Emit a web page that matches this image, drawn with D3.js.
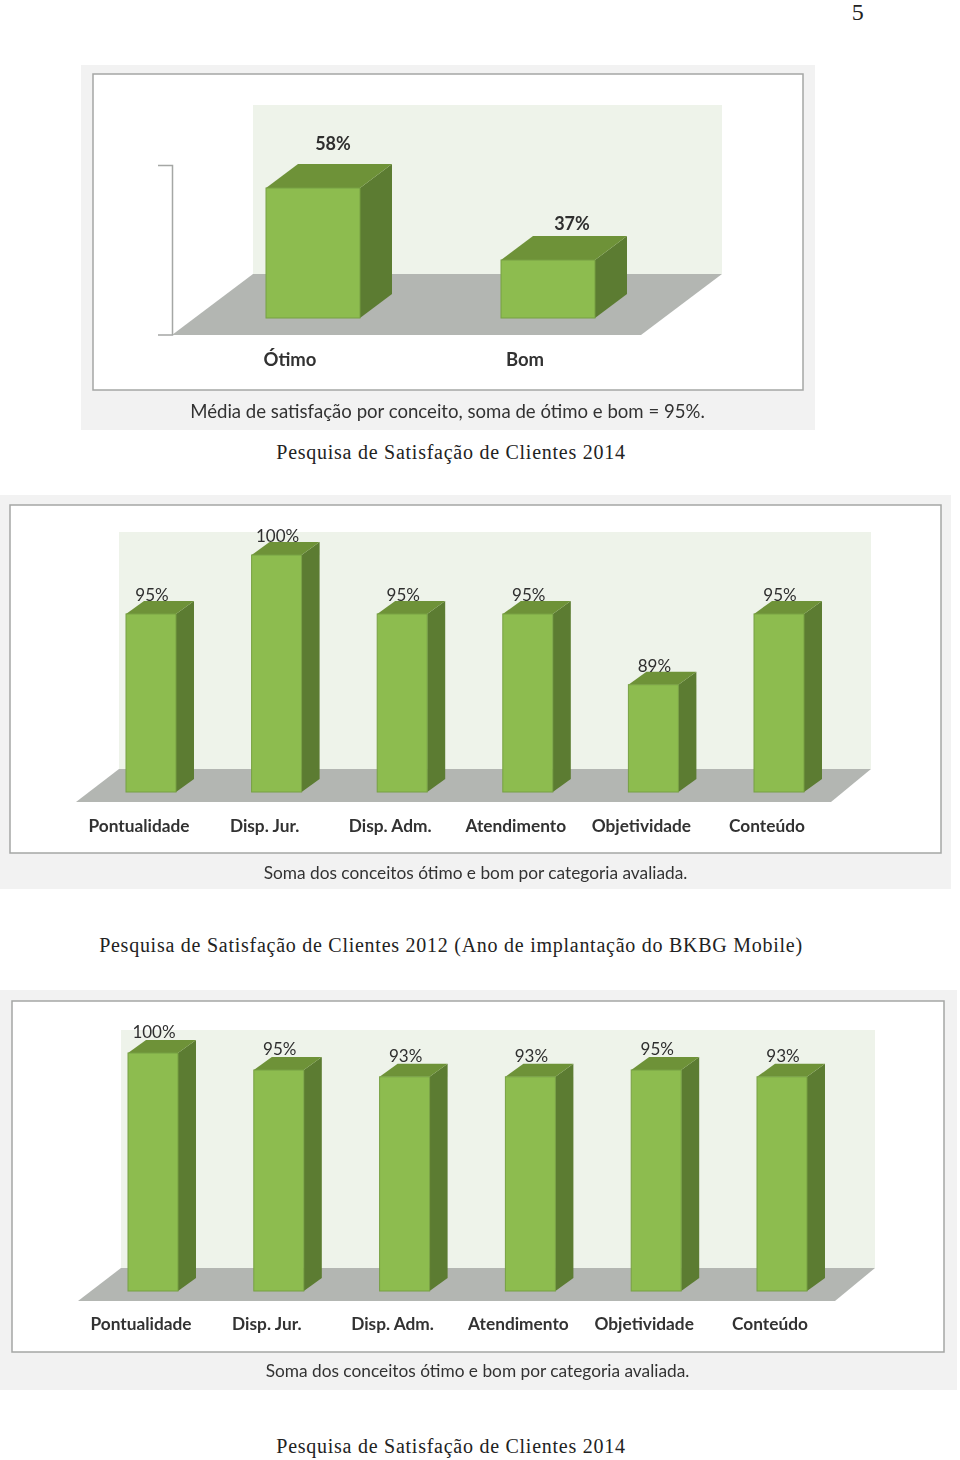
<!DOCTYPE html>
<html>
<head>
<meta charset="utf-8">
<script src="https://cdnjs.cloudflare.com/ajax/libs/d3/7.8.5/d3.min.js"></script>
<style>
html, body { margin: 0; padding: 0; background: #fff; }
svg { display: block; }
.page { font-family: "Liberation Serif", serif; font-size: 20px; letter-spacing: 0.74px; fill: #222; }
.val { font-family: Lato, sans-serif; fill: #2f2f2f; text-anchor: middle; }
.cat { font-family: Lato, sans-serif; font-weight: 700; fill: #333; text-anchor: middle; }
.note { font-family: Lato, sans-serif; fill: #333; text-anchor: middle; }
</style>
</head>
<body>
<svg id="chart" width="960" height="1460">
  <defs><filter id="soft" x="0" y="0" width="1" height="1"><feGaussianBlur stdDeviation="0.45"/></filter></defs>
</svg>
<script>
// chart data
var conceitos = ['Ótimo', 'Bom'];
var conceitosValues = [58, 37];

var categorias = ['Pontualidade', 'Disp. Jur.', 'Disp. Adm.', 'Atendimento', 'Objetividade', 'Conteúdo'];
var values2012 = [95, 100, 95, 95, 89, 95];
var values2014 = [100, 95, 93, 93, 95, 93];

var pageNumber = '5';
var caption2014 = 'Pesquisa de Satisfação de Clientes 2014';
var caption2012 = 'Pesquisa de Satisfação de Clientes 2012 (Ano de implantação do BKBG Mobile)';
var noteConceito = 'Média de satisfação por conceito, soma de ótimo e bom = 95%.';
var noteCategoria = 'Soma dos conceitos ótimo e bom por categoria avaliada.';

var svg = d3.select('#chart');

function polygon(g, points, fill) {
  g.append('polygon')
    .attr('points', points.map(function(p) { return p.join(','); }).join(' '))
    .attr('fill', fill);
}

function drawChart(o) {
  var g = svg.append('g').attr('filter', 'url(#soft)');

  // panel + frame
  g.append('rect').attr('x', o.panel[0]).attr('y', o.panel[1])
    .attr('width', o.panel[2] - o.panel[0]).attr('height', o.panel[3] - o.panel[1])
    .attr('fill', '#f2f2f2');
  g.append('rect').attr('x', o.frame[0]).attr('y', o.frame[1])
    .attr('width', o.frame[2] - o.frame[0]).attr('height', o.frame[3] - o.frame[1])
    .attr('fill', '#fff').attr('stroke', '#a5a7a5').attr('stroke-width', 1.5);

  // back wall + floor
  g.append('rect').attr('x', o.wall[0]).attr('y', o.wall[1])
    .attr('width', o.wall[2] - o.wall[0]).attr('height', o.wall[3] - o.wall[1])
    .attr('fill', '#eef3ea');
  polygon(g, [[o.wall[0], o.wall[3]], [o.wall[2], o.wall[3]], [o.floor[1], o.floor[2]], [o.floor[0], o.floor[2]]], '#b3b6b2');

  var x = d3.scalePoint().domain(o.categories).range(o.xRange);
  var y = d3.scaleLinear().domain(o.yDomain).range(o.yRange);

  var bars = g.selectAll('g.bar').data(o.values).enter().append('g').attr('class', 'bar');

  bars.each(function(d, i) {
    var b = d3.select(this);
    var x0 = x(o.categories[i]), x1 = x0 + o.barWidth, yt = y(d), yb = o.yRange[0];
    var nudge = o.valNudge ? o.valNudge[i] : [0, 0];
    polygon(b, [[x1, yt], [x1 + o.dx, yt - o.dy], [x1 + o.dx, yb - o.dy], [x1, yb]], '#5b7b30');
    polygon(b, [[x0, yt], [x0 + o.dx, yt - o.dy], [x1 + o.dx, yt - o.dy], [x1, yt]], '#6e9239');
    b.append('rect').attr('x', x0).attr('y', yt).attr('width', o.barWidth).attr('height', yb - yt)
      .attr('fill', '#8dbc4f').attr('stroke', '#77a043').attr('stroke-width', 1);
    b.append('text').attr('class', 'val')
      .attr('x', x0 + o.valDx + nudge[0]).attr('y', yt - o.valDy + nudge[1])
      .attr('dy', '0.35em').style('font-size', o.valSize + 'px')
      .style('font-weight', o.valWeight)
      .text(d + '%');
    b.append('text').attr('class', 'cat')
      .attr('x', x0 + o.catDx).attr('y', o.catY)
      .attr('dy', '0.35em').style('font-size', o.catSize + 'px')
      .text(o.categories[i]);
  });

  g.append('text').attr('class', 'note')
    .attr('x', o.noteX).attr('y', o.noteY).attr('dy', '0.35em')
    .style('font-size', o.noteSize + 'px').text(o.note);
  return g;
}

var first = drawChart({
  panel: [81, 65, 815, 430], frame: [93, 74, 803, 390],
  wall: [253, 105, 722, 274], floor: [172, 641, 335],
  categories: conceitos, values: conceitosValues,
  xRange: [266, 501], yDomain: [20.1, 58], yRange: [318, 188],
  barWidth: 94, dx: 32, dy: 24,
  valDx: 67, valDy: 44, valSize: 18, valWeight: 700, valNudge: [[0, 0], [4, 8]],
  catDx: 24, catY: 360, catSize: 18.5,
  note: noteConceito, noteX: 447.5, noteY: 411, noteSize: 18.6
});
// the first chart keeps a bare value axis on the left
first.append('path').attr('d', 'M158,165.5H172.5V335H158')
  .attr('fill', 'none').attr('stroke', '#a5a7a5').attr('stroke-width', 1.5);

drawChart({
  panel: [0, 495, 951, 889], frame: [10, 505, 941, 853],
  wall: [119, 532, 871, 769], floor: [76, 831, 802],
  categories: categorias, values: values2012,
  xRange: [126, 754], yDomain: [79.9, 100], yRange: [792, 555],
  barWidth: 50, dx: 18, dy: 13,
  valDx: 26, valDy: 19, valSize: 17, valWeight: 400, catDx: 13, catY: 826, catSize: 17.3,
  note: noteCategoria, noteX: 475.5, noteY: 873, noteSize: 17.3
});

drawChart({
  panel: [0, 990, 957, 1390], frame: [12, 1001, 944, 1352],
  wall: [121, 1030, 875, 1268], floor: [78, 835, 1301],
  categories: categorias, values: values2014,
  xRange: [128, 757], yDomain: [30, 100], yRange: [1291, 1053],
  barWidth: 50, dx: 18, dy: 13,
  valDx: 26, valDy: 20.5, valSize: 17, valWeight: 400, catDx: 13, catY: 1324, catSize: 17.3,
  note: noteCategoria, noteX: 477.5, noteY: 1371, noteSize: 17.3
});

svg.append('text').attr('class', 'page').attr('x', 858).attr('y', 20)
  .attr('text-anchor', 'middle').style('font-size', '24px').text(pageNumber);
svg.append('text').attr('class', 'page').attr('x', 451).attr('y', 459)
  .attr('text-anchor', 'middle').text(caption2014);
svg.append('text').attr('class', 'page').attr('x', 451).attr('y', 952)
  .attr('text-anchor', 'middle').text(caption2012);
svg.append('text').attr('class', 'page').attr('x', 451).attr('y', 1453)
  .attr('text-anchor', 'middle').text(caption2014);
</script>
</body>
</html>
